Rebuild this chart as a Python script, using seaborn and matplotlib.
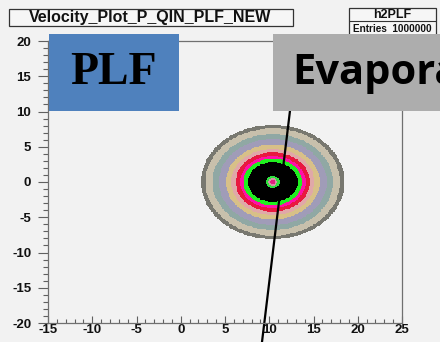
import numpy as np
import matplotlib
matplotlib.use("Agg")
import matplotlib.pyplot as plt
from matplotlib.colors import ListedColormap, BoundaryNorm
from matplotlib.patches import Rectangle
import seaborn as sns

# ---- data ----
x_ticks = [-15, -10, -5, 0, 5, 10, 15, 20, 25]
y_ticks = [-20, -15, -10, -5, 0, 5, 10, 15, 20]
center_x, center_y = 10.4, 0.0
# outer radius of each colour band (data units), from the centre outwards
ring_edges = [0.0, 0.3, 0.5, 0.8, 2.8, 3.3, 3.7, 4.2, 4.7, 5.3, 6.1, 6.8, 7.6, 8.1]
ring_colors = ["#e0207f", "#d890a8", "#30e040", "#000000", "#20f020", "#ff10a8",
               "#e81840", "#e0a8a8", "#d8c088", "#a09cb8", "#90a8a4", "#c8c0ac", "#787870"]
bin_width = 0.1
line_x = [12.34, 9.18]
line_y = [10.07, -22.7]
title_text = "Velocity_Plot_P_QIN_PLF_NEW"
stats_name = "h2PLF"
stats_entries = "Entries  1000000"

W, H = 440, 342
BG = "#f2f2f2"
sns.set_theme(style="white", rc={"figure.facecolor": BG, "axes.facecolor": BG})
plt.rcParams["font.family"] = ["Liberation Sans", "DejaVu Sans"]

fig = plt.figure(figsize=(W / 100, H / 100), dpi=100)
ax = fig.add_axes([48 / W, 1 - 323 / H, (402 - 48) / W, (323 - 41) / H])

# histogram bins
xe = np.arange(-15, 25 + bin_width / 2, bin_width)
ye = np.arange(-20, 20 + bin_width / 2, bin_width)
xc = (xe[:-1] + xe[1:]) / 2
yc = (ye[:-1] + ye[1:]) / 2
XX, YY = np.meshgrid(xc, yc)
R = np.hypot(XX - center_x, YY - center_y)
R = np.ma.masked_where(R >= ring_edges[-1], R)
cmap = ListedColormap(ring_colors)
norm = BoundaryNorm(ring_edges, cmap.N)
ax.pcolormesh(xe, ye, R, cmap=cmap, norm=norm, shading="flat")

ax.set_xlim(-15, 25)
ax.set_ylim(-20, 20)
ax.set_xticks(x_ticks)
ax.set_yticks(y_ticks)
ax.set_xticklabels([str(v) for v in x_ticks], fontsize=9.5, fontweight="bold")
ax.set_yticklabels([str(v) for v in y_ticks], fontsize=9.5, fontweight="bold")
ax.set_xticks(np.arange(-15, 26, 1), minor=True)
ax.set_yticks(np.arange(-20, 21, 1), minor=True)
ax.tick_params(axis="x", which="major", direction="in", length=5, width=0.8,
               color="#606060", pad=1, labelcolor="#111111", bottom=True)
ax.tick_params(axis="x", which="minor", direction="in", length=3, width=0.8,
               color="#606060", bottom=True)
ax.tick_params(axis="y", which="major", direction="out", length=7, width=0.8,
               color="#606060", pad=5, labelcolor="#111111", left=True)
ax.tick_params(axis="y", which="minor", direction="out", length=3.5, width=0.8,
               color="#606060", left=True)
for s in ax.spines.values():
    s.set_color("#707070")
    s.set_linewidth(0.9)

# black line crossing the plot
sns.lineplot(x=line_x, y=line_y, ax=ax, color="black", linewidth=1.6,
             sort=False, estimator=None)
for l in ax.lines:
    l.set_clip_on(False)

def px_rect(x0, y0, x1, y1, **kw):
    r = Rectangle((x0 / W, 1 - y1 / H), (x1 - x0) / W, (y1 - y0) / H,
                  transform=fig.transFigure, **kw)
    fig.add_artist(r)
    return r

# title box
px_rect(9, 9, 293, 26, facecolor="#f6f6f6", edgecolor="#333333", linewidth=0.9)
fig.text(150 / W, 1 - 17.5 / H, title_text, ha="center", va="center",
         fontsize=11.5, fontweight="bold", color="#111111")

# stats box
px_rect(349, 8, 436, 40, facecolor="#f6f6f6", edgecolor="#333333", linewidth=0.9)
fig.add_artist(plt.Line2D([349 / W, 436 / W], [1 - 21 / H, 1 - 21 / H],
                          transform=fig.transFigure, color="#333333", linewidth=0.8))
fig.text(392 / W, 1 - 14.5 / H, stats_name, ha="center", va="center",
         fontsize=9, fontweight="bold", color="#111111")
fig.text(392 / W, 1 - 28.5 / H, stats_entries, ha="center", va="center",
         fontsize=7.2, fontweight="bold", color="#111111")

# overlay boxes
px_rect(49, 34, 179, 111, facecolor="#4f81bd", edgecolor="none")
fig.text(113 / W, 1 - 73 / H, "PLF", ha="center", va="center",
         fontsize=33, fontweight="bold", family=["Liberation Serif"], color="black")
px_rect(273, 34, 445, 111, facecolor="#adadad", edgecolor="none")
fig.text(292 / W, 1 - 73 / H, "Evaporation", ha="left", va="center",
         fontsize=30, fontweight="bold", family=["Open Sans", "DejaVu Sans"], color="black")

fig.savefig("out.png", dpi=100, facecolor=BG)
